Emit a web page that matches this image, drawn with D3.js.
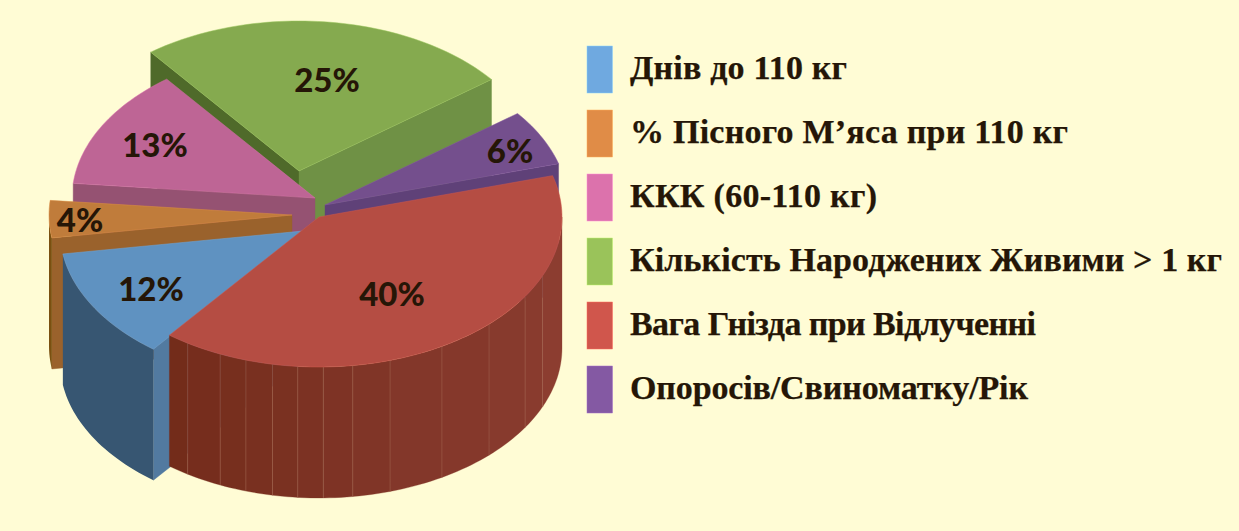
<!DOCTYPE html>
<html><head><meta charset="utf-8">
<script src="https://cdn.jsdelivr.net/npm/d3@7"></script>
<style>html,body{margin:0;padding:0;background:#fffcd5}svg{display:block}</style></head>
<body><svg id="c" width="1239" height="531"></svg>
<script>
const categories = ["Днів до 110 кг","% Пісного М’яса при 110 кг","ККК (60-110 кг)","Кількість Народжених Живими > 1 кг","Вага Гнізда при Відлученні","Опоросів/Свиноматку/Рік"];
const values = [12,4,13,25,40,6];
const pieOrder = [0,1,2,3,5,4];
const legendColors = ["#6fa9e0","#e08c47","#dc72ac","#9ac35a","#d0564c","#8459a3"];
const topColors = ["#5f92c1","#c07c3b","#be6595","#85aa4f","#b54d43","#744f8d"];
const rimColors = ["#375672","#7a5010","#955272","#6f9145","#7a2e1c","#5f4178"];
const apexX = [303,292,315,299,319,325];
const apexY = [231,215,198,171,217,205];
const labelX = [151,80,155,327,392,510];
const labelY = [288,219,144,79,293,150];
const legendWidths = [217,438,247,592,406,398];
const facets = [113,122,135.6,149.6,163,172,179,185,191,197.5,204,212.7];

const svg = d3.select("#c");
const rx = 243, ry = 150, depth = 131, toRad = Math.PI/180;
const sx = d3.scaleLinear().domain([-1,1]).range([-rx,rx]);
const sy = d3.scaleLinear().domain([-1,1]).range([ry,-ry]);
// pie runs clockwise from the red slice's end: blue, orange, pink, green, purple, red
const pie = d3.pie().sort(null).value(i=>values[i]).startAngle(218*toRad).endAngle(578*toRad);
const arcs = pie(pieOrder);
const line = d3.line().x(d=>d[0]).y(d=>d[1]);
const pt = (i,a,h=0)=>[apexX[i]+sx(Math.sin(a)), apexY[i]+sy(Math.cos(a))+h];
function rimPts(i,a0,a1,h=0){
  const n = Math.max(2,Math.ceil((a1-a0)/(toRad*1.5)));
  return d3.range(n+1).map(k=>pt(i,a0+(a1-a0)*k/n,h));
}
const paint = [3,5,2,1,0,4]; // back to front
const byCat = {}; arcs.forEach(a=>byCat[a.data]=a);
paint.forEach(i=>{
  const d = byCat[i], a0=d.startAngle, a1=d.endAngle, g=svg.append("g");
  const c=[apexX[i],apexY[i]];
  const wall=(a,col)=>{
    g.append("path").attr("d",line([c,pt(i,a),pt(i,a,depth),[c[0],c[1]+depth]])+"Z").attr("fill",col).attr("stroke",col).attr("stroke-width",.4);
  };
  if(i===1) wall(a0,"#9a622c");
  if(i===2) wall(a0,rimColors[2]);
  if(i===0) wall(a0,"#527aa0");
  if(i===3){ wall(a0,"#4f6a2a"); wall(a1,rimColors[3]); }
  if(i===5) wall(a1,rimColors[5]);
  if(i===0||i===1){
    const e=Math.min(a1,270*toRad);
    const pts=rimPts(i,a0,e).concat(rimPts(i,a0,e,depth).reverse());
    g.append("path").attr("d",line(pts)+"Z").attr("fill",rimColors[i]);
  }
  if(i===4){
    const s=2*Math.PI;
    const stops=[90].concat(facets,[218]);
    const col=d3.scaleLinear().domain([218,150,90]).range(["#722b19","#83372a","#8c3d30"]);
    for(let k=0;k<stops.length-1;k++){
      const f0=stops[k]*toRad+s,f1=stops[k+1]*toRad+s;
      const pts=rimPts(i,f0,f1).concat(rimPts(i,f0,f1,depth).reverse());
      g.append("path").attr("d",line(pts)+"Z").attr("fill",col(stops[k])).attr("stroke",col(stops[k])).attr("stroke-width",.3);
    }
    facets.forEach(t=>{
      const a=t*toRad+s;
      g.append("path").attr("d",line([pt(i,a),pt(i,a,depth)])).attr("stroke","#b57a68").attr("stroke-width",.5).attr("stroke-opacity",.7).attr("fill","none");
    });
  }
  g.append("path").attr("d",line([c].concat(rimPts(i,a0,a1)))+"Z").attr("fill",topColors[i]).attr("stroke",d3.color(topColors[i]).brighter(.4)).attr("stroke-width",.5);
});
const total=d3.sum(values);
categories.forEach((_,i)=>{
  svg.append("text").attr("x",labelX[i]).attr("y",labelY[i]).attr("text-anchor","middle").attr("dominant-baseline","central")
    .attr("font-family","Lato").attr("font-weight",900).attr("font-size",33).attr("fill","#251607")
    .text(d3.format(".0%")(values[i]/total));
});
categories.forEach((t,i)=>{
  svg.append("rect").attr("x",587).attr("y",46+64*i).attr("width",25.5).attr("height",47).attr("fill",legendColors[i]).attr("stroke",d3.color(legendColors[i]).brighter(.6)).attr("stroke-width",.5);
  svg.append("text").attr("x",630).attr("y",78.5+64*i).attr("font-family","Liberation Serif").attr("font-weight",700).attr("font-size",34).attr("fill","#251607").attr("stroke","#251607").attr("stroke-width",.25)
    .attr("textLength",legendWidths[i]).attr("lengthAdjust","spacing").text(t);
});
</script></body></html>
